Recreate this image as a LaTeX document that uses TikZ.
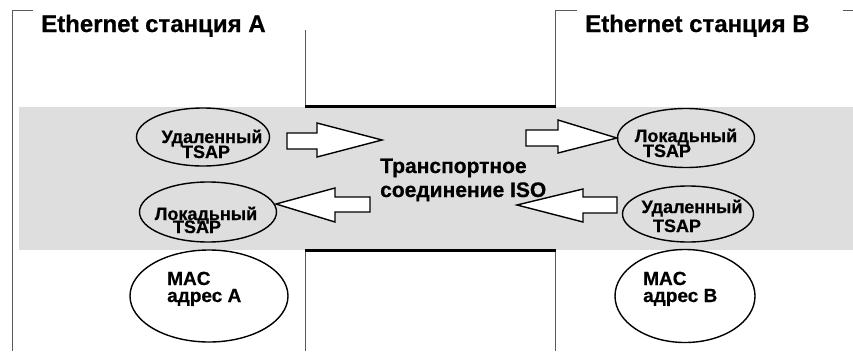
\documentclass[tikz,border=0pt]{standalone}
\usepackage{fontspec}
% every label in this drawing is set in the heavy Arial-width face
\setmainfont{Liberation Sans}[UprightFont=*-Bold,BoldFont=*-Bold,FakeBold=0.6]
\usetikzlibrary{shapes.geometric}
\begin{document}
\begin{tikzpicture}[x=1pt,y=-1pt,
  thin line/.style={draw=black!65,line width=1pt},
  thick line/.style={draw=black,line width=3pt},
  oval/.style 2 args={draw=black,line width=1.4pt,ellipse,minimum width=#1,minimum height=#2,inner sep=0pt},
  lbl/.style={font=\fontsize{18}{18}\selectfont,inner sep=0pt,anchor=base},
  maclbl/.style={font=\fontsize{19}{19}\selectfont,inner sep=0pt,anchor=base west},
  isolbl/.style={font=\fontsize{21}{21}\selectfont,inner sep=0pt,anchor=base west},
  title/.style={font=\fontsize{24}{24}\selectfont,inner sep=0pt,anchor=base west},
  blockarrow/.style={draw=black,line width=1.4pt,fill=white,line join=miter}]
\useasboundingbox (0,0) rectangle (853,351);
\fill[white] (0,0) rectangle (853,351);

% shared layer band
\fill[black!13] (19,107) rectangle (853,250);

% station frames
\draw[thin line] (33,10) -- (12,10) -- (12,351);
\draw[thin line] (305,30) -- (305,106);
\draw[thin line] (577,10) -- (555,10) -- (555,106);
\draw[thin line] (843,10) -- (853,10);
\draw[thin line] (305,250) -- (305,351);
\draw[thin line] (555,250) -- (555,351);
\draw[thick line] (305,106) -- (556,106);
\draw[thick line] (305,250) -- (556,250);

\node[title] (ta) at (41,32) {Ethernet станция A};
\node[title] (tb) at (585,32) {Ethernet станция B};

% TSAP ellipses
\node[oval={133}{58}] (ra) at (203,137) {};
\node[lbl] (ra1) at (212,143) {Удаленный};
\node[lbl] (ra2) at (206,158) {TSAP};

\node[oval={137}{60}] (la) at (208,212) {};
\node[lbl] (la1) at (206,220) {Локадьный};
\node[lbl] (la2) at (197,233) {TSAP};

\node[oval={137}{59}] (lb) at (686,138) {};
\node[lbl] (lb1) at (686,142) {Локадьный};
\node[lbl] (lb2) at (667,157) {TSAP};

\node[oval={131}{56}] (rb) at (688,214) {};
\node[lbl] (rb1) at (692,213) {Удаленный};
\node[lbl] (rb2) at (677,232) {TSAP};

% MAC address ellipses
\node[oval={158}{92}] (ma) at (209,296) {};
\node[maclbl] (ma1) at (167,285) {MAC};
\node[maclbl] (ma2) at (167,302) {адрес A};
\node[oval={140}{93}] (mb) at (685,296) {};
\node[maclbl] (mb1) at (643,285) {MAC};
\node[maclbl] (mb2) at (643,302) {адрес B};

% transport connection label
\node[isolbl] (iso1) at (380,173) {Транспортное};
\node[isolbl] (iso2) at (380,197) {соединение ISO};

% block arrows
\coordinate (a1tip) at (382,140);
\coordinate (a3tip) at (276,204);
\coordinate (a4tip) at (517,205);
\coordinate (a1) at (287,141);
\draw[blockarrow] (a1) ++(0,-8) -- ++(30,0) -- ++(0,-10) -- (a1tip) -- (317,157) -- ++(0,-8) -- ++(-30,0) -- cycle;
\coordinate (a2) at (526,138);
\draw[blockarrow] (a2) ++(0,-8) -- ++(32,0) -- ++(0,-10) -- (lb.west) -- (558,153) -- ++(0,-7) -- ++(-32,0) -- cycle;
\coordinate (a3) at (370,205);
\draw[blockarrow] (a3) ++(0,-8) -- ++(-35,0) -- ++(0,-9) -- (a3tip) -- (335,222) -- ++(0,-10) -- ++(35,0) -- cycle;
\coordinate (a4) at (617,205);
\draw[blockarrow] (a4) ++(0,-8) -- ++(-34,0) -- ++(0,-8) -- (a4tip) -- (583,222) -- ++(0,-9) -- ++(34,0) -- cycle;
\end{tikzpicture}
\end{document}
